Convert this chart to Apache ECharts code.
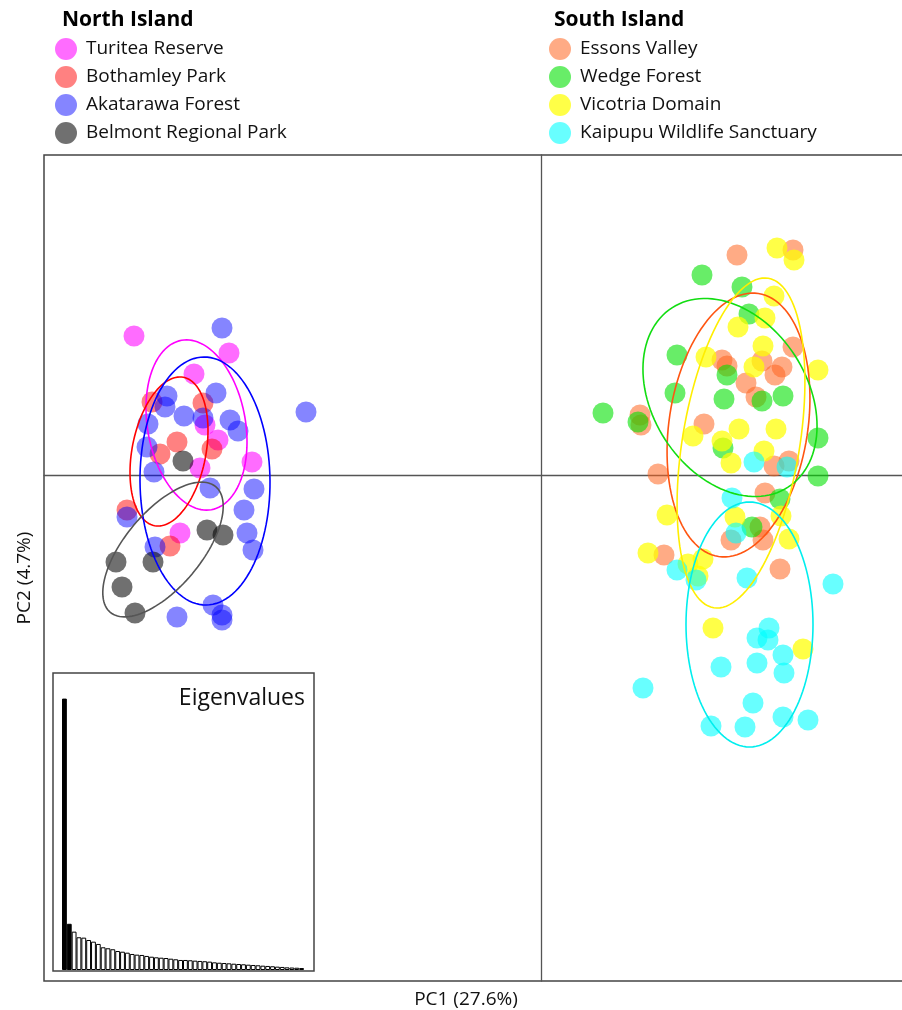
<!DOCTYPE html>
<html>
<head>
<meta charset="utf-8">
<title>PCA</title>
<script src="https://cdn.jsdelivr.net/npm/echarts@6/dist/echarts.min.js"></script>
<style>
  html, body { margin: 0; padding: 0; background: #fff; }
  #main { width: 902px; height: 1010px; }
</style>
</head>
<body>
<div id="main"></div>
<script>
// site names, grouped by island
var northSites = ['Turitea Reserve', 'Bothamley Park', 'Akatarawa Forest', 'Belmont Regional Park'];
var southSites = ['Essons Valley', 'Wedge Forest', 'Vicotria Domain', 'Kaipupu Wildlife Sanctuary'];

// PC1 / PC2 scores
var turitea = [[-40.7, 13.9], [-31.2, 12.2], [-34.7, 10.1], [-33.6, 5.0], [-32.3, 3.5], [-28.9, 1.3], [-34.1, 0.7], [-36.1, -5.8]];
var bothamley = [[-38.9, 7.3], [-33.8, 7.2], [-36.4, 3.3], [-38.1, 2.1], [-32.9, 2.6], [-41.4, -3.5], [-37.1, -7.1]];
var akatarawa = [[-31.9, 14.7], [-37.4, 7.9], [-37.6, 6.8], [-32.5, 8.2], [-35.7, 5.9], [-33.8, 5.7], [-31.1, 5.5], [-30.3, 4.4],
    [-39.3, 5.1], [-39.4, 2.8], [-38.7, 0.3], [-23.5, 6.3], [-33.1, -1.3], [-28.7, -1.4], [-29.7, -3.5], [-29.4, -5.8],
    [-28.8, -7.5], [-41.4, -4.2], [-38.6, -7.2], [-32.8, -13.0], [-31.9, -14.5], [-31.9, -14.0], [-36.4, -14.2]];
var belmont = [[-35.8, 1.4], [-33.4, -5.5], [-31.8, -6.0], [-42.5, -8.7], [-38.8, -8.7], [-41.9, -11.2], [-40.6, -13.8]];
var essons = [[19.6, 22.0], [25.2, 22.5], [25.2, 12.8], [18.1, 11.5], [18.6, 10.9], [22.1, 11.4], [24.1, 10.8], [23.4, 10.0],
    [20.5, 9.2], [21.5, 7.8], [9.9, 6.0], [10.0, 5.0], [16.3, 5.1], [11.7, 0.1], [23.3, 0.9], [24.8, 1.4], [22.4, -1.8],
    [21.9, -5.2], [22.2, -6.5], [19.0, -6.5], [12.3, -8.0], [23.9, -9.4]];
var wedge = [[16.1, 20.0], [20.1, 18.8], [20.8, 16.1], [13.6, 12.0], [18.6, 10.0], [13.4, 8.2], [18.3, 7.6], [22.1, 7.4],
    [24.2, 7.9], [6.2, 6.2], [9.7, 5.3], [18.2, 2.7], [27.7, 3.7], [27.7, -0.1], [23.9, -2.4], [21.1, -5.2]];
var vicotria = [[23.6, 22.7], [25.3, 21.5], [23.3, 17.9], [22.4, 15.7], [19.7, 14.8], [22.2, 12.9], [16.5, 11.8], [21.3, 10.8],
    [27.7, 10.5], [19.8, 4.6], [23.5, 4.6], [15.2, 3.9], [18.1, 3.4], [19.0, 1.2], [22.3, 2.4], [12.6, -4.0], [19.4, -4.2],
    [24.0, -4.1], [24.8, -6.4], [10.7, -7.8], [14.7, -8.9], [16.2, -8.4], [15.7, -10.1], [17.2, -15.3], [26.2, -17.4]];
var kaipupu = [[21.3, 1.3], [24.6, 0.8], [19.1, -2.3], [19.5, -5.8], [13.6, -9.5], [15.5, -10.5], [20.6, -10.3], [29.2, -10.9],
    [22.8, -15.3], [21.6, -16.3], [22.7, -16.5], [24.2, -18.0], [18.0, -19.2], [21.6, -18.8], [24.3, -19.8], [10.2, -21.3],
    [21.2, -22.8], [17.0, -25.1], [20.4, -25.2], [24.2, -24.2], [26.7, -24.5]];

// group ellipses: centre x, centre y, semi-major, semi-minor, angle (deg)
var ellipses = [
    [-34.45, 5.0, 8.6, 4.9, 100],
    [-37.2, 2.35, 7.56, 3.69, 79],
    [-33.6, -0.6, 12.4, 6.5, 90.5],
    [-37.8, -7.45, 8.2, 3.8, 50],
    [19.75, 5.0, 13.3, 6.94, 81.4],
    [18.9, 7.75, 10.68, 7.73, 122.9],
    [20.0, 3.2, 16.7, 5.86, 80.6],
    [20.85, -14.95, 12.25, 6.35, 90]
];

// eigenvalues (% variance) for the inset
var eigenvalues = [27.6, 4.7, 3.9, 3.33, 3.29, 3.05, 2.88, 2.65, 2.31, 2.21,
    2.11, 1.93, 1.86, 1.76, 1.63, 1.56, 1.53, 1.43, 1.35, 1.29,
    1.25, 1.22, 1.15, 1.09, 1.02, 1.02, 0.99, 0.95, 0.92, 0.89,
    0.85, 0.78, 0.74, 0.71, 0.68, 0.64, 0.61, 0.58, 0.54, 0.51,
    0.48, 0.44, 0.41, 0.38, 0.34, 0.31, 0.27, 0.25, 0.23, 0.20];

var groups = [turitea, bothamley, akatarawa, belmont, essons, wedge, vicotria, kaipupu];
var names = northSites.concat(southSites);
var dotColors = ['rgba(255,0,255,0.72)', 'rgba(255,0,0,0.62)', 'rgba(0,0,255,0.6)', 'rgba(0,0,0,0.7)',
    'rgba(255,100,30,0.68)', 'rgba(0,225,0,0.74)', 'rgba(255,255,0,0.9)', 'rgba(0,255,255,0.74)'];
var lineColors = ['#ff00ff', '#ff0000', '#0000ff', '#555555', '#ff5511', '#11dd11', '#ffee00', '#00eeee'];

var FONT = 'Open Sans';

var chart = echarts.init(document.getElementById('main'), null, {renderer: 'canvas'});

var series = [];
for (var i = 0; i < groups.length; i++) {
    series.push({
        name: names[i],
        type: 'scatter',
        xAxisIndex: 0,
        yAxisIndex: 0,
        symbol: 'circle',
        symbolSize: 21,
        itemStyle: {color: dotColors[i]},
        emphasis: {disabled: true},
        data: groups[i]
    });
}

// ellipses drawn through the axis scales
series.push({
    name: 'ellipses',
    type: 'custom',
    xAxisIndex: 0,
    yAxisIndex: 0,
    z: 5,
    silent: true,
    clip: false,
    encode: {x: 0, y: 1},
    renderItem: function (params, api) {
        var cx = api.value(0), cy = api.value(1), a = api.value(2), b = api.value(3);
        var th = api.value(4) * Math.PI / 180;
        var pts = [];
        for (var k = 0; k < 120; k++) {
            var t = 2 * Math.PI * k / 120;
            var dx = a * Math.cos(t) * Math.cos(th) - b * Math.sin(t) * Math.sin(th);
            var dy = a * Math.cos(t) * Math.sin(th) + b * Math.sin(t) * Math.cos(th);
            pts.push(api.coord([cx + dx, cy + dy]));
        }
        return {
            type: 'polygon',
            shape: {points: pts},
            style: {fill: 'none', stroke: lineColors[params.dataIndex], lineWidth: 1.6}
        };
    },
    data: ellipses
});

series.push({
    name: 'Eigenvalues',
    type: 'bar',
    xAxisIndex: 1,
    yAxisIndex: 1,
    barCategoryGap: '0%',
    silent: true,
    itemStyle: {
        color: function (p) { return p.dataIndex < 2 ? '#000' : '#fff'; },
        borderColor: '#000',
        borderWidth: 1
    },
    data: eigenvalues
});

var legendBase = {
    orient: 'vertical',
    top: 38,
    padding: 0,
    itemWidth: 22,
    itemHeight: 22,
    itemGap: 6,
    icon: 'circle',
    selectedMode: false,
    textStyle: {fontFamily: FONT, fontSize: 19, color: '#111', padding: [0, 0, 0, 4]}
};

var o = {
    animation: false,
    backgroundColor: '#fff',
    grid: [
        {left: 44, right: 0, top: 155, bottom: 29},
        {left: 62, width: 242, top: 675, bottom: 40}
    ],
    xAxis: [
        {
            type: 'value', gridIndex: 0, min: -49.7, max: 36.1,
            axisLine: {show: true, onZero: true, lineStyle: {color: '#555', width: 1.3}},
            axisTick: {show: false}, axisLabel: {show: false}, splitLine: {show: false}
        },
        {
            type: 'category', gridIndex: 1,
            data: eigenvalues.map(function (v, i) { return 'PC' + (i + 1); }),
            axisLine: {show: false}, axisTick: {show: false}, axisLabel: {show: false}
        }
    ],
    yAxis: [
        {
            type: 'value', gridIndex: 0, min: -50.6, max: 32.0,
            axisLine: {show: true, onZero: true, lineStyle: {color: '#555', width: 1.3}},
            axisTick: {show: false}, axisLabel: {show: false}, splitLine: {show: false}
        },
        {
            type: 'value', gridIndex: 1, min: 0, max: 30,
            axisLine: {show: false}, axisTick: {show: false}, axisLabel: {show: false}, splitLine: {show: false}
        }
    ],
    legend: [
        echarts.util.extend({left: 55, data: northSites}, legendBase),
        echarts.util.extend({left: 549, data: southSites}, legendBase)
    ],
    graphic: [
        {type: 'text', left: 62, top: 10, style: {text: 'North Island', font: 'bold 21px "Open Sans"', fill: '#000'}},
        {type: 'text', left: 554, top: 10, style: {text: 'South Island', font: 'bold 21px "Open Sans"', fill: '#000'}},
        // plot frame, open on the right where the picture is cut off
        {type: 'polyline', shape: {points: [[904, 155], [44, 155], [44, 981], [904, 981]]},
            style: {fill: null, stroke: '#444', lineWidth: 1.5}},
        {type: 'rect', shape: {x: 53, y: 673, width: 261, height: 298}, z: 1,
            style: {fill: '#fff', stroke: '#444', lineWidth: 1.5}},
        {type: 'text', x: 305, y: 698, z: 10,
            style: {text: 'Eigenvalues', font: '23px "Open Sans"', fill: '#111', align: 'right', verticalAlign: 'middle'}},
        {type: 'text', x: 466, y: 1000,
            style: {text: 'PC1 (27.6%)', font: '19px "Open Sans"', fill: '#111', align: 'center', verticalAlign: 'middle'}},
        {type: 'text', x: 25, y: 578, rotation: Math.PI / 2,
            style: {text: 'PC2 (4.7%)', font: '19px "Open Sans"', fill: '#111', align: 'center', verticalAlign: 'middle'}}
    ],
    series: series
};

chart.setOption(o);
</script>
</body>
</html>
